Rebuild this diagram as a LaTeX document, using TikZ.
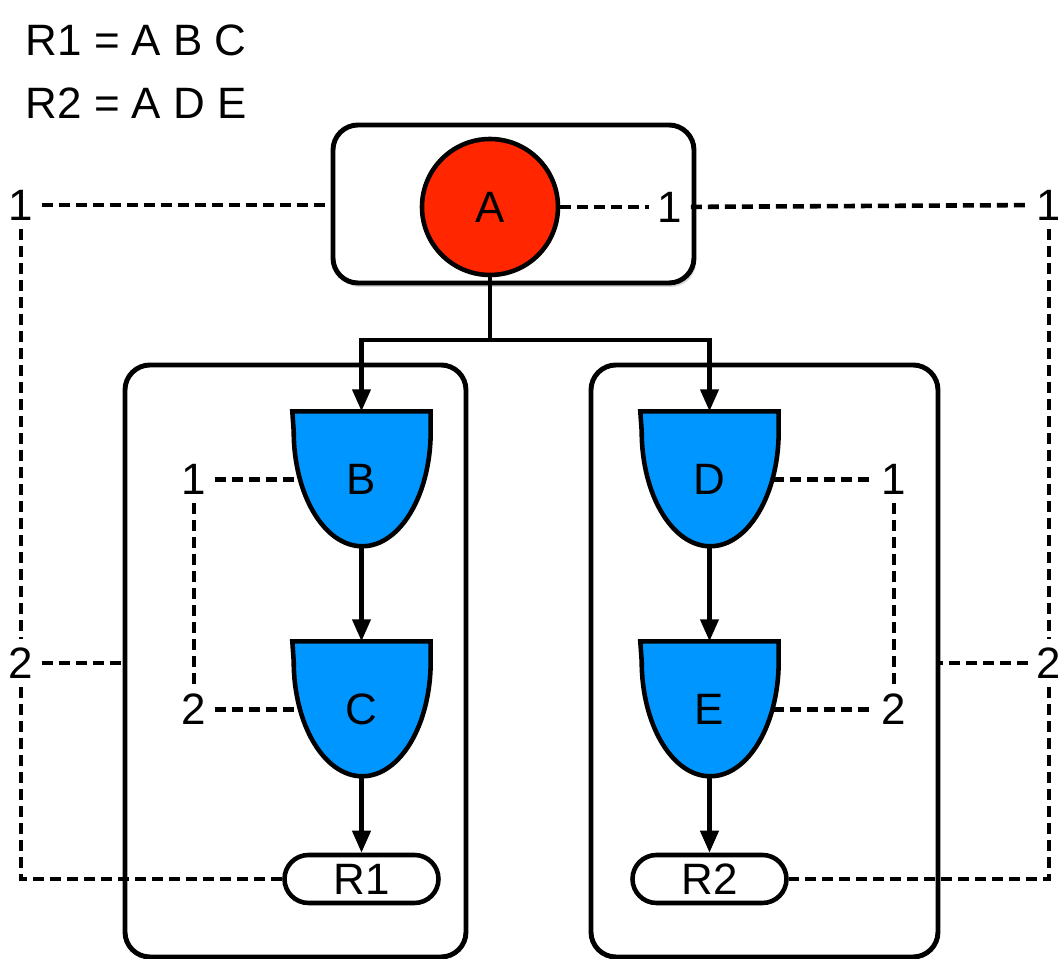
\documentclass[tikz,border=0pt]{standalone}
\usepackage{fontspec}
\setmainfont{Liberation Sans}
\usetikzlibrary{arrows.meta,backgrounds,shadows}

\definecolor{nodered}{RGB}{255,38,0}
\definecolor{nodeblue}{RGB}{0,150,255}

\begin{document}
\begin{tikzpicture}[
    font=\fontsize{12.5}{15}\selectfont,
    frame/.style={rectangle, draw, rounded corners=0.25cm, line width=1.4pt},
    root/.style={circle, draw, line width=1.3pt, fill=nodered, minimum size=1.36cm, inner sep=0pt},
    gate/.style={rectangle, minimum width=1.37cm, minimum height=1.35cm, inner sep=0pt},
    gateline/.style={draw, line width=1.3pt, fill=nodeblue},
    result/.style={rectangle, draw, rounded corners=0.24cm, line width=1.3pt, minimum width=1.54cm, minimum height=0.48cm, inner sep=0pt},
    num/.style={inner sep=0.08cm},
    arrow/.style={-{Triangle[length=0.22cm,width=0.18cm]}, line width=1.2pt},
    link/.style={dash pattern=on 0.11cm off 0.06cm, line width=1.3pt}
]
    \useasboundingbox (0,0) rectangle (10.58,-9.59);

    \node[anchor=west, inner sep=0pt] (def1) at (0.25,-0.40) {R1 = A B C};
    \node[anchor=west, inner sep=0pt] (def2) at (0.25,-1.03) {R2 = A D E};

    \node[frame, fill=white, drop shadow={opacity=0.3, shadow xshift=0.02cm, shadow yshift=-0.04cm}, minimum width=3.61cm, minimum height=1.58cm] (topbox) at (5.135,-2.04) {};
    \node[frame, minimum width=3.41cm, minimum height=5.92cm] (leftbox) at (2.955,-6.61) {};
    \node[frame, minimum width=3.47cm, minimum height=5.92cm] (rightbox) at (7.645,-6.61) {};

    \node[root] (A) at (4.90,-2.07) {A};
    \node[gate] (B) at (3.615,-4.795) {B};
    \node[gate] (C) at (3.615,-7.095) {C};
    \node[gate] (D) at (7.095,-4.795) {D};
    \node[gate] (E) at (7.095,-7.095) {E};
    \node[result] (R1) at (3.615,-8.79) {R1};
    \node[result] (R2) at (7.095,-8.79) {R2};

    % gate outlines behind the letters
    \begin{scope}[on background layer]
        \foreach \g in {B,C,D,E}
            \draw[gateline] (\g.north west) -- (\g.north east) -- ++(0,-0.2)
                arc[start angle=0, end angle=-180, x radius=0.685cm, y radius=1.15cm] -- cycle;
    \end{scope}
    \coordinate (B-in) at ([xshift=0.06cm]B.west);
    \coordinate (C-in) at ([xshift=0.06cm]C.west);
    \coordinate (D-in) at ([xshift=-0.06cm]D.east);
    \coordinate (E-in) at ([xshift=-0.06cm]E.east);

    \node[num] (o1) at (0.21,-2.05) {1};
    \node[num] (o2) at (0.21,-6.63) {2};
    \node[num] (a1) at (6.70,-2.07) {1};
    \node[num] (p1) at (10.49,-2.05) {1};
    \node[num] (p2) at (10.49,-6.63) {2};
    \node[num] (i1) at (1.94,-4.795) {1};
    \node[num] (i2) at (1.94,-7.095) {2};
    \node[num] (j1) at (8.94,-4.795) {1};
    \node[num] (j2) at (8.94,-7.095) {2};

    \coordinate (fork) at (4.90,-3.40);
    \draw[arrow] (A) -- (fork) -| (B);
    \draw[arrow] (fork) -| (D);
    \draw[arrow] (B) -- (C);
    \draw[arrow] (C) -- (R1);
    \draw[arrow] (D) -- (E);
    \draw[arrow] (E) -- (R2);

    \draw[link] (o1) -- (o1 -| topbox.west);
    \draw[link] (o1) -- (o2);
    \draw[link] (o2) -- (o2 -| leftbox.west);
    \draw[link] (o2) |- (R1);
    \draw[link] (A) -- (a1);
    \draw[link] (a1) -- (p1);
    \draw[link] (p1) -- (p2);
    \draw[link] (p2) -- (p2 -| rightbox.east);
    \draw[link] (p2) |- (R2);
    \draw[link] (i1) -- (B-in);
    \draw[link] (i1) -- (i2);
    \draw[link] (i2) -- (C-in);
    \draw[link] (D-in) -- (j1);
    \draw[link] (j1) -- (j2);
    \draw[link] (E-in) -- (j2);
\end{tikzpicture}
\end{document}
